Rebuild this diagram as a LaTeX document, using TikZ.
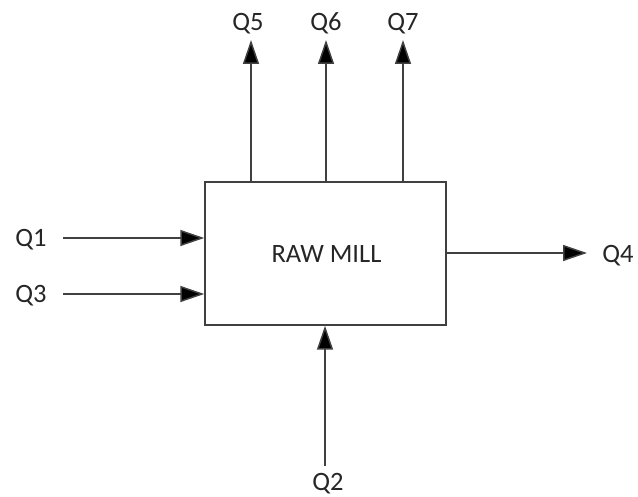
\documentclass[tikz,border=0pt]{standalone}
\usepackage{fontspec}
\setmainfont{Carlito}
\usetikzlibrary{arrows.meta}
\begin{document}
\begin{tikzpicture}[x=1pt,y=-1pt,
  lbl/.style={font=\fontsize{26.5}{30}\selectfont, text=black!85, inner sep=0pt, anchor=base},
  flow/.style={draw=black!75, line width=1.5pt, -{Triangle[length=24pt,width=16pt,fill=black]}},
  millbox/.style={draw=black!75, line width=1.5pt, minimum width=241pt, minimum height=143pt, inner sep=0pt}]
\useasboundingbox (0,0) rectangle (638,497);
\node[millbox] (mill) at (325.5,253.5) {};
\node[lbl] (millname) at (326.5,263) {RAW MILL};
% labels
\node[lbl] (q5) at (248,31) {Q5};
\node[lbl] (q6) at (326,31) {Q6};
\node[lbl] (q7) at (403,31) {Q7};
\node[lbl] (q1) at (31,247) {Q1};
\node[lbl] (q3) at (31,303) {Q3};
\node[lbl] (q4) at (618,263) {Q4};
\node[lbl] (q2) at (328,490) {Q2};
% connector end points
\coordinate (t5) at (251,40);
\coordinate (t6) at (326,40);
\coordinate (t7) at (403,40);
\coordinate (s1) at (63,238);
\coordinate (s3) at (63,294);
\coordinate (t4) at (587,253);
\coordinate (s2) at (325,466);
% connectors
\draw[flow] (mill.north -| t5) -- (t5);
\draw[flow] (mill.north -| t6) -- (t6);
\draw[flow] (mill.north -| t7) -- (t7);
\draw[flow] (s1) -- (s1 -| mill.west);
\draw[flow] (s3) -- (s3 -| mill.west);
\draw[flow] (mill.east |- t4) -- (t4);
\draw[flow] (s2) -- (s2 |- mill.south);
\end{tikzpicture}
\end{document}
